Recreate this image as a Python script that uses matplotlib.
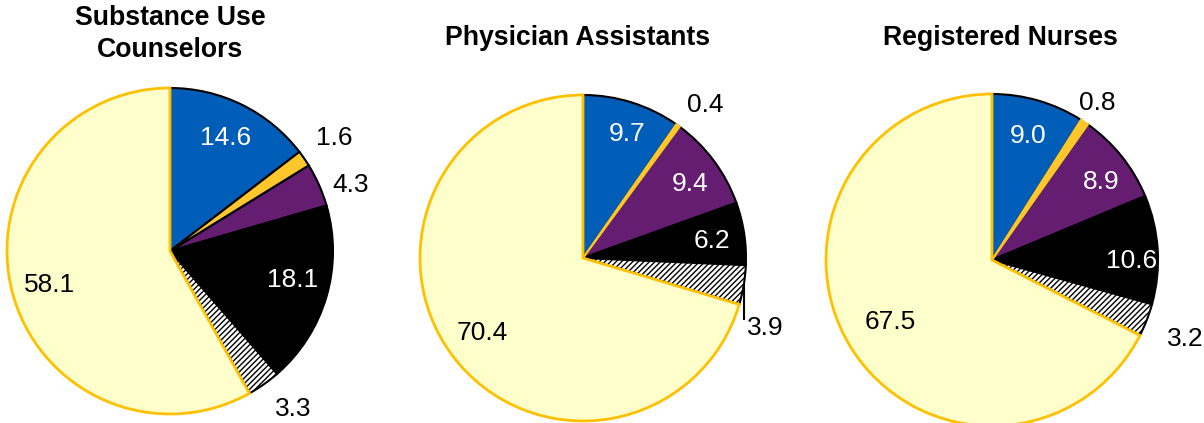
import matplotlib
matplotlib.use("Agg")
import matplotlib.pyplot as plt
import numpy as np

plt.rcParams['font.family'] = ['Liberation Sans', 'DejaVu Sans']
plt.rcParams['hatch.linewidth'] = 1.0

titles = ["Substance Use\nCounselors", "Physician Assistants", "Registered Nurses"]
categories = ["Blue", "Gold", "Purple", "Black", "Hatched", "Light yellow"]
counselors = [14.6, 1.6, 4.3, 18.1, 3.3, 58.1]
physician_assistants = [9.7, 0.4, 9.4, 6.2, 3.9, 70.4]
registered_nurses = [9.0, 0.8, 8.9, 10.6, 3.2, 67.5]
series = [counselors, physician_assistants, registered_nurses]

# styles
face = ["#005EB8", "#FFC72C", "#651D71", "#000000", "white", "#FFFFCC"]
edge = ["black", "black", "black", "black", "black", "#FFC000"]
hatch = [None, None, None, None, "//////", None]
gold_edge = ["black", "#FFC72C", "#FFC72C"]
# label placement per pie (radius factor, angle offset deg)
label_r = [
    [0.77, 0, 1.22, 0, 1.18, -4, 0.77, 3, 1.23, 3, 0.77, 1],
    [0.81, -2, 1.2, -3, 0.80, -2, 0.80, -1, 1.2, -11.5, 0.77, 0],
    [0.78, 0, 1.14, 0, 0.81, -3, 0.84, -4, 1.26, -1, 0.72, 0],
]
label_col = [
    ["white", "black", "black", "white", "black", "black"],
    ["white", "black", "white", "white", "black", "black"],
    ["white", "black", "white", "white", "black", "black"],
]
W, H = 1204, 423
# pie centers and radii in pixels
centers = [(170, 251, 163), (583, 258, 163), (992, 260, 166)]
title_y = [34, 38, 38]
title_x = [170, 578, 1000]

fig = plt.figure(figsize=(W / 100, H / 100), dpi=100)
for k, vals in enumerate(series):
    cx, cy, r = centers[k]
    ax = fig.add_axes([(cx - r) / W, (H - cy - r) / H, 2 * r / W, 2 * r / H])
    wedges, _ = ax.pie(vals, startangle=90, counterclock=False, radius=1,
                       colors=face,
                       wedgeprops=dict(linewidth=1.5))
    for i, w in enumerate(wedges):
        w.set_edgecolor(edge[i])
        if hatch[i]:
            w.set_hatch(hatch[i])
        if i == 5:
            w.set_linewidth(2.0)
    wedges[1].set_edgecolor(gold_edge[k])
    wedges[1].set_zorder(2.5)
    wedges[5].set_zorder(3)
    for i, w in enumerate(wedges):
        mid = np.deg2rad((w.theta1 + w.theta2) / 2 + label_r[k][2 * i + 1])
        rf = label_r[k][2 * i]
        ax.text(rf * np.cos(mid), rf * np.sin(mid), f"{vals[i]:.1f}",
                ha="center", va="center", fontsize=19, color=label_col[k][i],
                zorder=5, clip_on=False)
    if k == 1:
        w = wedges[4]
        m = np.deg2rad((w.theta1 + w.theta2) / 2)
        x0, y0 = np.cos(m), np.sin(m)
        ax.plot([x0, x0], [y0, y0 - 0.21], color="black", lw=1.5, zorder=4,
                clip_on=False)
    ax.set_xlim(-1, 1)
    ax.set_ylim(-1, 1)
    ax.set_aspect("equal")
    ax.axis("off")
    fig.text(title_x[k] / W, 1 - title_y[k] / H, titles[k], ha="center",
             va="center", fontsize=19.2, fontweight="bold", linespacing=1.3)

fig.savefig("out.png", dpi=100)
